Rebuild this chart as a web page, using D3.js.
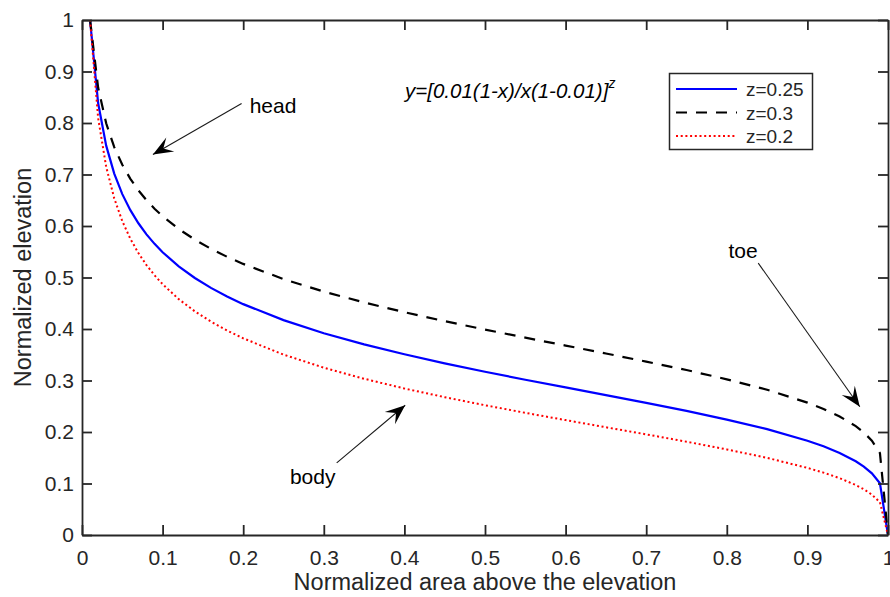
<!DOCTYPE html>
<html>
<head>
<meta charset="utf-8">
<script src="https://cdn.jsdelivr.net/npm/d3@7"></script>
<style>
  html, body { margin: 0; padding: 0; background: #fff; }
  svg { display: block; }
  text { font-family: "Liberation Sans", Arial, Helvetica, sans-serif; }
</style>
</head>
<body>
<svg id="chart" width="890" height="597"></svg>
<script>
// Normalized area above the elevation (x) and elevation curves for three exponents
const xs = [0.01, 0.02, 0.03, 0.04, 0.05, 0.06, 0.07, 0.08, 0.09, 0.10,
            0.12, 0.14, 0.16, 0.18, 0.20, 0.25, 0.30, 0.35, 0.40, 0.45,
            0.50, 0.55, 0.60, 0.65, 0.70, 0.75, 0.80, 0.85, 0.90, 0.92,
            0.94, 0.96, 0.97, 0.98, 0.99, 1.00];

const ySolid = [1, 0.8388, 0.7560, 0.7017, 0.6619, 0.6307, 0.6053, 0.5838, 0.5653, 0.5491,
                0.5217, 0.4991, 0.4799, 0.4632, 0.4483, 0.4172, 0.3918, 0.3701, 0.3509, 0.3333,
                0.3170, 0.3015, 0.2865, 0.2716, 0.2565, 0.2409, 0.2241, 0.2055, 0.1830, 0.1722,
                0.1594, 0.1432, 0.1329, 0.1198, 0.1005, 0];

const yDashed = [1, 0.8688, 0.7995, 0.7532, 0.7188, 0.6916, 0.6692, 0.6501, 0.6336, 0.6190,
                 0.5942, 0.5735, 0.5557, 0.5402, 0.5264, 0.4969, 0.4726, 0.4515, 0.4326, 0.4153,
                 0.3989, 0.3832, 0.3678, 0.3525, 0.3367, 0.3203, 0.3023, 0.2820, 0.2570, 0.2448,
                 0.2301, 0.2113, 0.1991, 0.1832, 0.1591, 0];

const yDotted = [1, 0.8098, 0.7148, 0.6537, 0.6094, 0.5751, 0.5474, 0.5242, 0.5043, 0.4871,
                 0.4580, 0.4343, 0.4144, 0.3971, 0.3819, 0.3503, 0.3249, 0.3034, 0.2845, 0.2676,
                 0.2520, 0.2372, 0.2231, 0.2092, 0.1954, 0.1812, 0.1662, 0.1498, 0.1303, 0.1211,
                 0.1104, 0.0971, 0.0888, 0.0784, 0.0635, 0];

const seriesNames = ["z=0.25", "z=0.3", "z=0.2"];
const xTicks = [0, 0.1, 0.2, 0.3, 0.4, 0.5, 0.6, 0.7, 0.8, 0.9, 1];
const xTickLabels = ["0", "0.1", "0.2", "0.3", "0.4", "0.5", "0.6", "0.7", "0.8", "0.9", "1"];
const yTicks = [0, 0.1, 0.2, 0.3, 0.4, 0.5, 0.6, 0.7, 0.8, 0.9, 1];
const yTickLabels = ["0", "0.1", "0.2", "0.3", "0.4", "0.5", "0.6", "0.7", "0.8", "0.9", "1"];

// Annotations: label, label anchor (data units), arrow start and arrow tip (data units)
const annotations = [
  { label: "head", lx: 0.208, ly: 0.82,  x0: 0.198, y0: 0.838, x1: 0.088, y1: 0.739 },
  { label: "toe",  lx: 0.802, ly: 0.538, x0: 0.839, y0: 0.528, x1: 0.965, y1: 0.249 },
  { label: "body", lx: 0.258, ly: 0.10,  x0: 0.316, y0: 0.140, x1: 0.401, y1: 0.252 }
];

const W = 890, H = 597;
const margin = { left: 82, right: 2, top: 20, bottom: 62 };
const axisColor = "#262626";

const svg = d3.select("#chart");

const x = d3.scaleLinear().domain([0, 1]).range([margin.left, W - margin.right]);
const y = d3.scaleLinear().domain([0, 1]).range([H - margin.bottom, margin.top]);

// Curves
const line = d3.line().x(d => x(d[0])).y(d => y(d[1])).curve(d3.curveLinear);
const series = [
  { name: seriesNames[0], values: ySolid,  color: "#0000ff", width: 2.2, dash: null },
  { name: seriesNames[1], values: yDashed, color: "#000000", width: 2.2, dash: "11,9" },
  { name: seriesNames[2], values: yDotted, color: "#ff0000", width: 2.0, dash: "2,2.7" }
];

const curves = svg.append("g");
series.forEach(s => {
  curves.append("path")
    .datum(xs.map((v, i) => [v, s.values[i]]))
    .attr("d", line)
    .attr("fill", "none")
    .attr("stroke", s.color)
    .attr("stroke-width", s.width)
    .attr("stroke-dasharray", s.dash);
});

// Axes (box with inward ticks on all four sides)
function styleAxis(g) {
  g.selectAll(".domain").attr("stroke", axisColor).attr("stroke-width", 1.8);
  g.selectAll(".tick line").attr("stroke", axisColor).attr("stroke-width", 1.8);
  g.selectAll(".tick text").attr("fill", axisColor)
    .style("font-family", '"Liberation Sans", Arial, Helvetica, sans-serif')
    .style("font-size", "21px");
}

svg.append("g")
  .attr("transform", `translate(0,${y(0)})`)
  .call(d3.axisBottom(x).tickValues(xTicks).tickSize(-10).tickSizeOuter(0).tickPadding(15)
    .tickFormat((d, i) => xTickLabels[i]))
  .call(styleAxis);

svg.append("g")
  .attr("transform", `translate(0,${y(1)})`)
  .call(d3.axisTop(x).tickValues(xTicks).tickSize(-10).tickSizeOuter(0).tickFormat(""))
  .call(styleAxis);

svg.append("g")
  .attr("transform", `translate(${x(0)},0)`)
  .call(d3.axisLeft(y).tickValues(yTicks).tickSize(-10).tickSizeOuter(0).tickPadding(8)
    .tickFormat((d, i) => yTickLabels[i]))
  .call(styleAxis);

svg.append("g")
  .attr("transform", `translate(${x(1)},0)`)
  .call(d3.axisRight(y).tickValues(yTicks).tickSize(-10).tickSizeOuter(0).tickFormat(""))
  .call(styleAxis);

// Axis titles
svg.append("text")
  .attr("x", (x(0) + x(1)) / 2)
  .attr("y", 590)
  .attr("text-anchor", "middle")
  .attr("fill", axisColor)
  .style("font-size", "23.5px")
  .text("Normalized area above the elevation");

svg.append("text")
  .attr("transform", `translate(31,${(y(0) + y(1)) / 2}) rotate(-90)`)
  .attr("text-anchor", "middle")
  .attr("fill", axisColor)
  .style("font-size", "23.5px")
  .text("Normalized elevation");

// Equation
const eq = svg.append("text")
  .attr("x", 405)
  .attr("y", 98)
  .attr("fill", "#000")
  .style("font-size", "20.5px")
  .style("font-style", "italic");
eq.append("tspan").text("y=[0.01(1-x)/x(1-0.01)]");
eq.append("tspan").attr("dy", -10).style("font-size", "14px").text("z");

// Annotation arrows with concave arrowheads
const ann = svg.append("g");
function arrowHead(px0, py0, px1, py1, len, half, notch) {
  const dx = px1 - px0, dy = py1 - py0;
  const d = Math.hypot(dx, dy);
  const ux = dx / d, uy = dy / d, nx = -uy, ny = ux;
  const bx = px1 - ux * len, by = py1 - uy * len;
  const mx = px1 - ux * len * notch, my = py1 - uy * len * notch;
  return [[px1, py1], [bx + nx * half, by + ny * half], [mx, my], [bx - nx * half, by - ny * half]];
}
annotations.forEach(a => {
  const p0 = [x(a.x0), y(a.y0)], p1 = [x(a.x1), y(a.y1)];
  ann.append("line")
    .attr("x1", p0[0]).attr("y1", p0[1])
    .attr("x2", p1[0]).attr("y2", p1[1])
    .attr("stroke", "#1a1a1a").attr("stroke-width", 1.1);
  ann.append("polygon")
    .attr("points", arrowHead(p0[0], p0[1], p1[0], p1[1], 20, 8, 0.6).map(p => p.join(",")).join(" "))
    .attr("fill", "#000");
  ann.append("text")
    .attr("x", x(a.lx)).attr("y", y(a.ly))
    .attr("fill", "#000")
    .style("font-size", "21px")
    .text(a.label);
});

// Legend
const lg = svg.append("g");
lg.append("rect")
  .attr("x", 669.5).attr("y", 73.5).attr("width", 143).attr("height", 76)
  .attr("fill", "#fff").attr("stroke", axisColor).attr("stroke-width", 1.5);
series.forEach((s, i) => {
  const ry = 89 + i * 23.5;
  lg.append("line")
    .attr("x1", 676).attr("x2", 737).attr("y1", ry).attr("y2", ry)
    .attr("stroke", s.color).attr("stroke-width", s.width)
    .attr("stroke-dasharray", s.dash);
  lg.append("text")
    .attr("x", 746).attr("y", ry + 7)
    .attr("fill", axisColor)
    .style("font-size", "19px")
    .text(s.name);
});
</script>
</body>
</html>
